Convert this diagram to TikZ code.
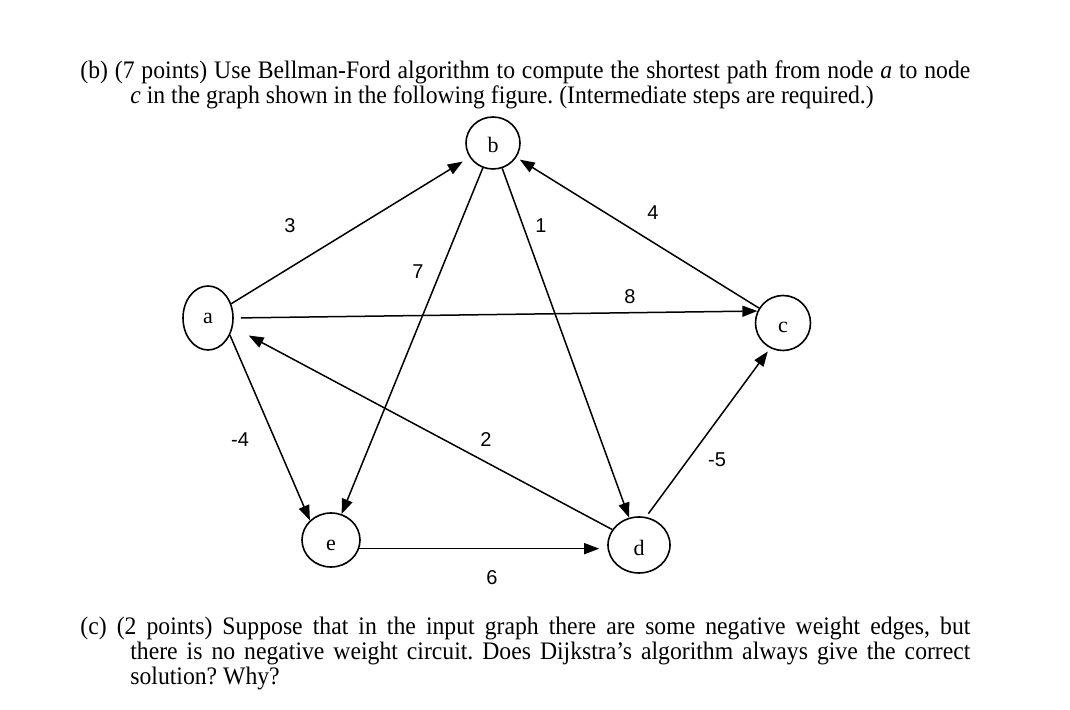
\documentclass[tikz,border=0pt]{standalone}
\usepackage{fontspec}
\setmainfont{Liberation Serif}
\newfontfamily\txtfont[FakeStretch=0.94]{Liberation Serif}
\newfontfamily\lblfont{Liberation Sans}
\usetikzlibrary{arrows.meta,shapes.geometric}
\tikzset{
  vert/.style={draw,ellipse,line width=0.8pt,inner sep=0pt,font=\fontsize{11}{12}\selectfont},
  low/.style={text height=10pt,text depth=0pt},
  arr/.style={line width=0.75pt,-{Triangle[length=7.5pt,width=5.5pt]}},
  wlabel/.style={font=\lblfont\fontsize{10}{11}\selectfont,inner sep=0pt},
  txt/.style={anchor=base west,inner sep=0pt,font=\txtfont\fontsize{12.6}{14}\selectfont}
}
\begin{document}
\frenchspacing
\begin{tikzpicture}[x=0.5pt,y=-0.5pt]
\useasboundingbox (0,0) rectangle (1070,710);
% text
\node[txt] (tb1) at (80,79) {\makebox[445pt][s]{(b) (7 points) Use Bellman-Ford algorithm to compute the shortest path from node \textit{a} to node}};
\node[txt] (tb2) at (130,104) {\textit{c} in the graph shown in the following figure. (Intermediate steps are required.)};
\node[txt] (tc1) at (80,634) {\makebox[445pt][s]{(c) (2 points) Suppose that in the input graph there are some negative weight edges, but}};
\node[txt] (tc2) at (130,659) {\makebox[420pt][s]{there is no negative weight circuit. Does Dijkstra’s algorithm always give the correct}};
\node[txt] (tc3) at (130,684) {solution? Why?};
% vertices
\node[vert,minimum width=25pt,minimum height=32pt] (a) at (208,318) {a};
\node[vert,low,minimum width=27pt,minimum height=26pt] (b) at (493,143) {b};
\node[vert,low,minimum width=27.5pt,minimum height=27.5pt] (c) at (783,323) {c};
\node[vert,low,minimum width=29pt,minimum height=27pt] (e) at (331,540) {e};
\node[vert,low,minimum width=31pt,minimum height=28pt] (d) at (639,545) {d};
% edges
\draw[arr,shorten >=4pt] (a) -- (b);
\draw[arr,shorten >=2pt] (c) -- (b);
\draw[arr] (b) -- (e);
\draw[arr] (b) -- (d);
\draw[arr,shorten <=3.5pt] (a.east) -- (c.155);
\draw[arr,shorten >=9pt] (d.150) -- (a.-20);
\draw[arr] (a.-38) -- (e.137);
\draw[arr,shorten >=4pt] (e.-17) -- (e.-17 -| d.west);
\draw[arr,shorten <=2pt,shorten >=2pt] (d.76) -- (c.-117);
% weights
\node[wlabel] (w3) at (290,226) {3};
\node[wlabel] (w7) at (418,272) {7};
\node[wlabel] (w1) at (541,226) {1};
\node[wlabel] (w4) at (653,213) {4};
\node[wlabel] (w8) at (630,297) {8};
\node[wlabel] (wm4) at (240,440) {-4};
\node[wlabel] (w2) at (486,440) {2};
\node[wlabel] (wm5) at (717,460) {-5};
\node[wlabel] (w6) at (492,578) {6};
\end{tikzpicture}
\end{document}
